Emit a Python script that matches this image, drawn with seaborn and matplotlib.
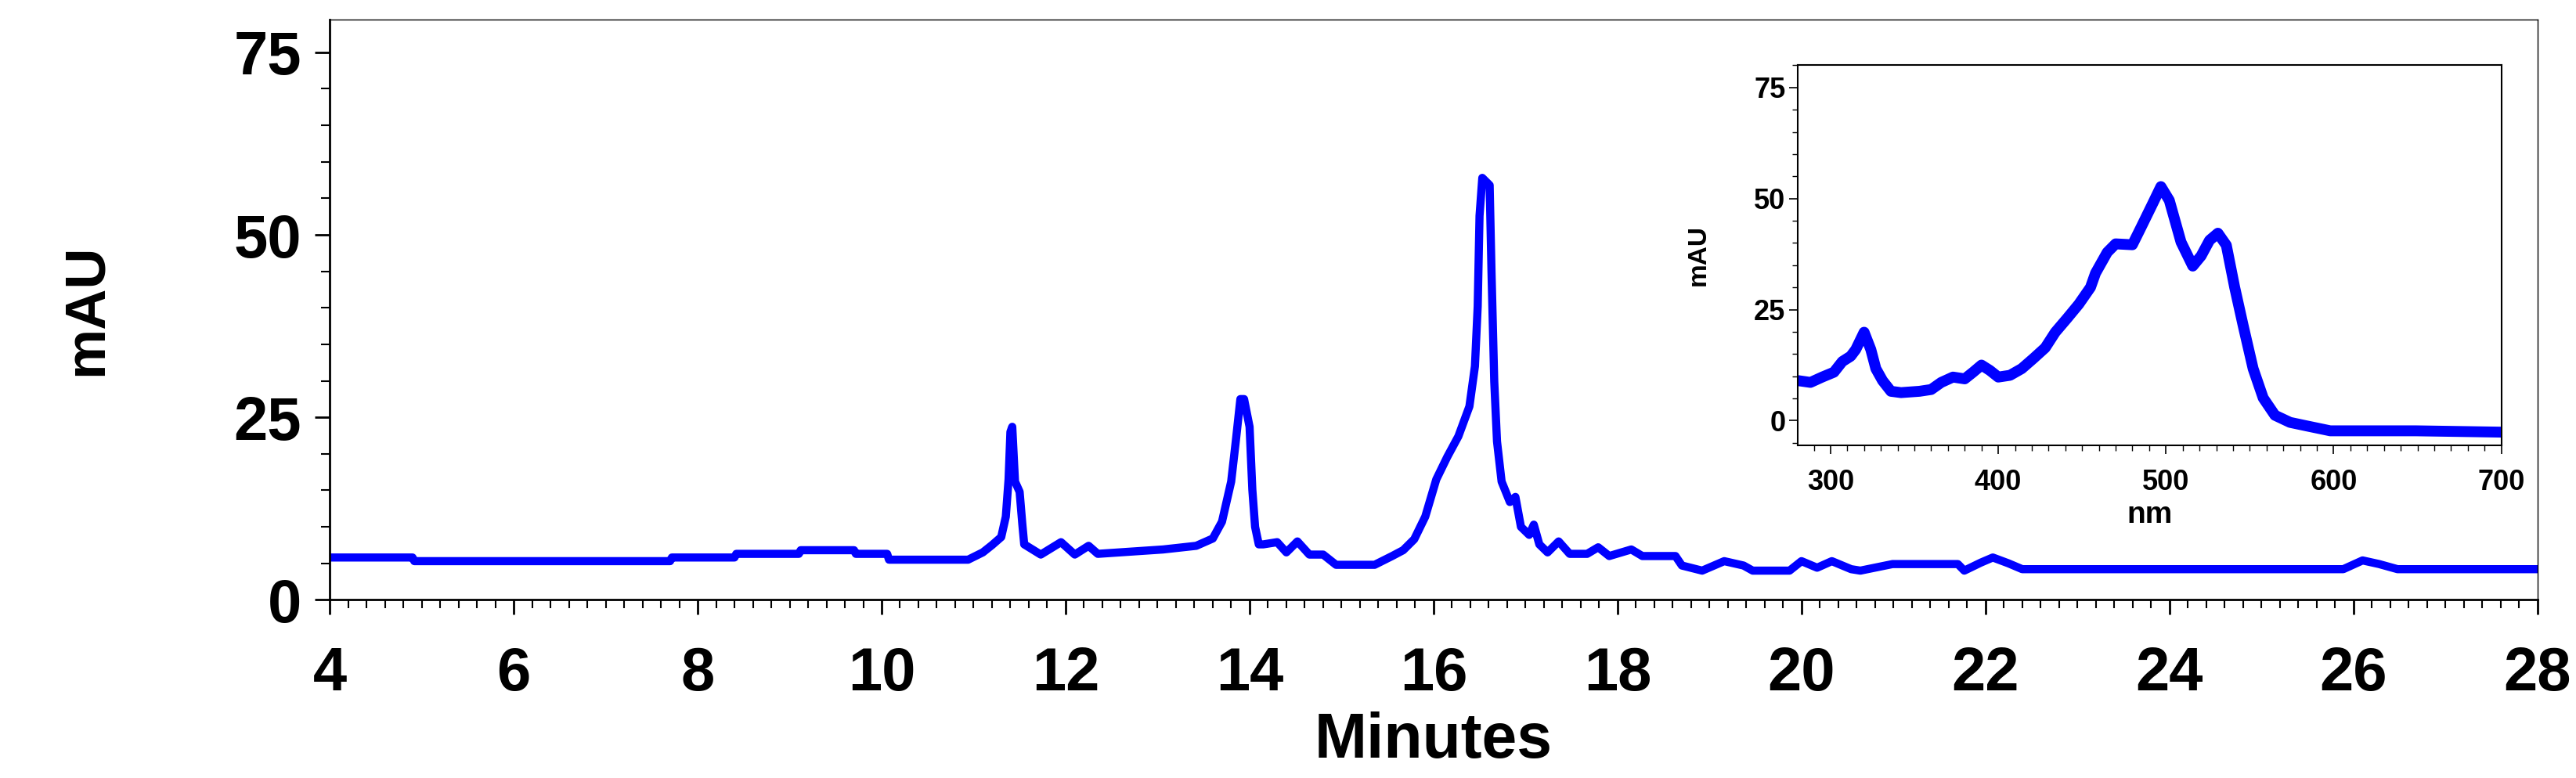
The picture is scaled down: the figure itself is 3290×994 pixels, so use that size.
import matplotlib
matplotlib.use("Agg")
import matplotlib.pyplot as plt
from matplotlib.ticker import MultipleLocator
import seaborn as sns
import pandas as pd

# chromatogram (minutes, mAU)
minutes = [4.0, 4.9, 4.92, 7.7, 7.72, 8.4, 8.42, 9.1, 9.12, 9.7, 9.72, 10.06, 10.08,
           10.94, 11.1, 11.2, 11.3, 11.35, 11.38, 11.4, 11.42, 11.45, 11.5, 11.53, 11.55,
           11.73, 11.95, 12.1, 12.25, 12.35, 13.06, 13.42, 13.6, 13.7, 13.8, 13.85, 13.9,
           13.94, 14.0, 14.03, 14.06, 14.1, 14.15, 14.3, 14.4, 14.52, 14.65, 14.8, 14.94,
           15.36, 15.55, 15.67, 15.79, 15.91, 16.03, 16.15, 16.27, 16.39, 16.45, 16.48,
           16.5, 16.53, 16.61, 16.63, 16.66, 16.69, 16.74, 16.83, 16.89, 16.95, 17.04,
           17.09, 17.15, 17.24, 17.36, 17.48, 17.67, 17.79, 17.91, 18.15, 18.27, 18.63,
           18.7, 18.92, 19.16, 19.37, 19.47, 19.87, 20.0, 20.17, 20.33, 20.54, 20.64,
           20.99, 21.7, 21.77, 21.95, 22.08, 22.25, 22.4, 25.89, 26.1, 26.28, 26.48, 28.0]
mau = [5.8, 5.8, 5.3, 5.3, 5.8, 5.8, 6.3, 6.3, 6.8, 6.8, 6.3, 6.3, 5.5,
       5.5, 6.5, 7.5, 8.6, 11.4, 16.5, 23.0, 23.7, 16.2, 14.8, 10.3, 7.6,
       6.2, 7.9, 6.2, 7.4, 6.3, 6.9, 7.4, 8.4, 10.7, 16.2, 21.7, 27.5,
       27.5, 23.7, 15.1, 10.0, 7.6, 7.6, 7.9, 6.5, 8.0, 6.2, 6.2, 4.8,
       4.8, 6.0, 6.8, 8.3, 11.4, 16.5, 19.6, 22.4, 26.5, 32.0, 40.2,
       52.6, 57.8, 56.8, 45.0, 29.9, 21.7, 16.2, 13.4, 14.1, 10.0, 8.9,
       10.3, 7.6, 6.5, 8.0, 6.3, 6.3, 7.2, 6.0, 6.9, 6.0, 6.0,
       4.7, 4.0, 5.3, 4.7, 4.0, 4.0, 5.3, 4.4, 5.3, 4.2, 4.0,
       4.9, 4.9, 4.0, 5.1, 5.8, 5.0, 4.2, 4.2, 5.4, 4.9, 4.2, 4.2]

# inset UV-Vis spectrum (nm, mAU)
wavelength = [280.6, 288, 295, 302, 307, 312, 315, 320, 324, 327, 331, 336, 342, 353,
              360, 366, 373, 380, 385, 390, 395, 400, 407, 414, 421, 428, 434, 441,
              448, 455, 458, 465, 470, 480, 485, 492, 497, 502, 509, 516, 521, 526,
              531, 536, 541, 546, 552, 558, 565, 574, 584, 598, 649, 700]
absorb = [9.0, 8.6, 9.8, 10.9, 13.3, 14.5, 16.0, 19.9, 16.0, 11.7, 9.0, 6.6, 6.3, 6.6,
          7.0, 8.6, 9.8, 9.4, 10.9, 12.5, 11.3, 9.8, 10.2, 11.7, 14.0, 16.4, 19.9, 23.0,
          26.2, 30.0, 33.2, 37.9, 39.8, 39.6, 43.4, 48.8, 52.7, 49.6, 40.2, 34.8, 37.1, 40.6,
          42.2, 39.5, 30.0, 21.5, 11.7, 5.1, 1.2, -0.4, -1.2, -2.3, -2.3, -2.6]

main_ticks = [4, 6, 8, 10, 12, 14, 16, 18, 20, 22, 24, 26, 28]
y_ticks = [0, 25, 50, 75]
inset_ticks = [300, 400, 500, 600, 700]

sns.set_style("ticks")
plt.rcParams["font.family"] = ["Liberation Sans", "DejaVu Sans"]
plt.rcParams["font.weight"] = "bold"
for key in ["text.color", "axes.labelcolor", "xtick.color", "ytick.color", "axes.edgecolor"]:
    plt.rcParams[key] = "black"

fig = plt.figure(figsize=(32.9, 9.94), dpi=100)
ax = fig.add_axes([0.128, 0.229, 0.857, 0.746])
chrom = pd.DataFrame({"Minutes": minutes, "mAU": mau})
sns.lineplot(data=chrom, x="Minutes", y="mAU", ax=ax, color="#0000FF", lw=7.5,
             estimator=None, sort=False)
ax.set_xlim(4, 28)
ax.set_ylim(0, 79.5)
ax.set_xticks(main_ticks)
ax.set_yticks(y_ticks)
ax.xaxis.set_minor_locator(MultipleLocator(0.2))
ax.yaxis.set_minor_locator(MultipleLocator(5))
ax.tick_params(axis="both", which="major", labelsize=56, length=14, width=2, pad=12)
ax.tick_params(axis="x", which="major", pad=28)
ax.tick_params(axis="both", which="minor", length=8, width=1.5)
for s in ["top", "right"]:
    ax.spines[s].set_linewidth(1.0)
for s in ["left", "bottom"]:
    ax.spines[s].set_linewidth(2)
ax.set_xlabel("Minutes", fontsize=58, fontweight="bold", labelpad=8)
ax.set_ylabel("mAU", fontsize=52, fontweight="bold")
ax.yaxis.set_label_coords(-0.098, 0.5)

ins = fig.add_axes([0.698, 0.428, 0.273, 0.488])
spec = pd.DataFrame({"nm": wavelength, "mAU": absorb})
sns.lineplot(data=spec, x="nm", y="mAU", ax=ins, color="#0000FF", lw=10,
             estimator=None, sort=False)
ins.set_xlim(280.6, 700)
ins.set_ylim(-5.5, 80)
ins.set_xticks(inset_ticks)
ins.set_yticks(y_ticks)
ins.xaxis.set_minor_locator(MultipleLocator(10))
ins.yaxis.set_minor_locator(MultipleLocator(5))
ins.tick_params(axis="both", which="major", labelsize=26, length=8, width=1.2)
ins.tick_params(axis="x", which="major", pad=14)
ins.tick_params(axis="both", which="minor", length=5, width=1)
for s in ins.spines.values():
    s.set_linewidth(1.5)
ins.set_xlabel("nm", fontsize=28, fontweight="bold")
ins.set_ylabel("mAU", fontsize=24, fontweight="bold", labelpad=40)

fig.savefig("out.png", dpi=100)
